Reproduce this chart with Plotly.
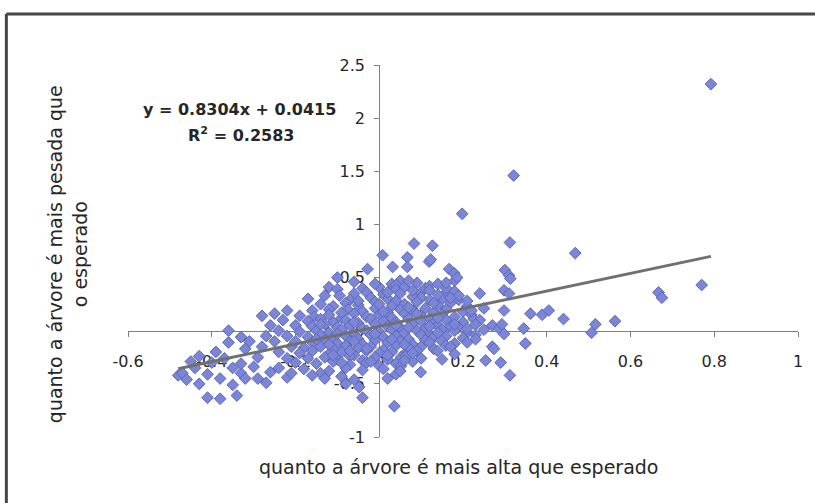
import plotly.graph_objects as go

# ---------------- data ----------------
# sparse left part of the cloud
left_x = [-0.48, -0.47, -0.46, -0.45, -0.44, -0.43, -0.43, -0.41, -0.41, -0.40, -0.39, -0.38, -0.38,
          -0.37, -0.36, -0.36, -0.35, -0.35, -0.34, -0.33, -0.33, -0.33, -0.32, -0.32, -0.31, -0.30,
          -0.29, -0.29, -0.28, -0.28, -0.27, -0.27, -0.26, -0.26, -0.25, -0.25, -0.24, -0.24, -0.24,
          -0.23, -0.22, -0.22, -0.22, -0.22, -0.21, -0.21, -0.20, -0.20, -0.20]
left_y = [-0.42, -0.40, -0.46, -0.29, -0.35, -0.24, -0.50, -0.63, -0.41, -0.30, -0.20, -0.45, -0.64,
          -0.26, 0.00, -0.11, -0.35, -0.51, -0.61, -0.40, -0.06, -0.31, -0.17, -0.45, -0.10, -0.34,
          -0.45, -0.25, 0.14, -0.15, -0.05, -0.49, 0.05, -0.39, -0.10, 0.16, -0.20, -0.35, 0.00,
          0.10, 0.19, -0.05, -0.26, -0.44, -0.15, -0.40, -0.30, 0.05, -0.10]

# dense central part of the cloud
core_x = [-0.10, -0.06, 0.03, 0.05, 0.04, 0.09, -0.12,
          -0.10, -0.04, -0.06, -0.03, 0.00, 0.01, 0.04, 0.06, 0.05, 0.10, 0.11, 0.12, 0.12, 0.16, 0.16, 0.18, 0.24,
          -0.17, -0.095, -0.07, -0.02, 0.02, 0.04, 0.08, 0.10, 0.12, 0.15, 0.19, 0.19,
          -0.14, -0.11, -0.08, -0.05, -0.01, 0.03, 0.06, 0.09, 0.14, 0.17, 0.21,
          -0.16, -0.12, -0.075, -0.04, -0.01, 0.02, 0.05, 0.08, 0.11, 0.13, 0.16, 0.20, 0.25,
          -0.19, -0.155, -0.12, -0.09, -0.06, -0.03, 0.00, 0.03, 0.06, 0.10, 0.12, 0.15, 0.18, 0.22,
          -0.17, -0.14, -0.11, -0.08, -0.05, -0.02, 0.01, 0.04, 0.07, 0.10, 0.13, 0.16, 0.20, 0.226, 0.24,
          -0.16, -0.13, -0.10, -0.07, -0.04, -0.01, 0.02, 0.05, 0.08, 0.11, 0.14, 0.17, 0.19, 0.23,
          -0.19, -0.15, -0.12, -0.09, -0.06, -0.03, 0.00, 0.03, 0.06, 0.09, 0.12, 0.15, 0.18, 0.21, 0.25,
          -0.17, -0.14, -0.11, -0.08, -0.05, -0.02, 0.01, 0.04, 0.07, 0.10, 0.13, 0.16, 0.20, 0.23,
          -0.16, -0.13, -0.10, -0.07, -0.04, -0.01, 0.02, 0.05, 0.08, 0.11, 0.147, 0.18,
          -0.18, -0.14, -0.11, -0.08, -0.05, -0.02, 0.01, 0.04, 0.07, 0.10, 0.13, 0.159, 0.27,
          -0.19, -0.16, -0.12, -0.09, -0.06, -0.03, 0.00, 0.03, 0.06, 0.09, 0.139,
          -0.17, -0.13, -0.10, -0.07, -0.04, -0.01, 0.02, 0.052, 0.063, 0.10,
          -0.15, -0.11, -0.07, -0.03, 0.00, 0.04, 0.052, 0.08,
          -0.18, -0.12, -0.08, -0.04, 0.01, 0.04, 0.05, 0.099, -0.14,
          -0.13, -0.09, -0.06, 0.02, -0.08, -0.048, -0.16,
          -0.04, 0.036]
core_y = [0.50, 0.46, 0.44, 0.47, 0.43, 0.45, 0.41,
          0.39, 0.40, 0.35, 0.36, 0.41, 0.34, 0.39, 0.41, 0.35, 0.36, 0.40, 0.42, 0.38, 0.36, 0.40, 0.37, 0.35,
          0.30, 0.33, 0.29, 0.31, 0.30, 0.28, 0.32, 0.31, 0.29, 0.30, 0.29, 0.33,
          0.25, 0.23, 0.26, 0.24, 0.27, 0.23, 0.25, 0.27, 0.24, 0.26, 0.23,
          0.19, 0.20, 0.20, 0.18, 0.21, 0.17, 0.20, 0.19, 0.21, 0.17, 0.20, 0.18, 0.21,
          0.14, 0.13, 0.15, 0.12, 0.16, 0.13, 0.15, 0.12, 0.16, 0.14, 0.11, 0.15, 0.13, 0.15,
          0.09, 0.11, 0.08, 0.10, 0.07, 0.11, 0.09, 0.08, 0.11, 0.09, 0.07, 0.10, 0.08, 0.11, 0.10,
          0.04, 0.06, 0.03, 0.05, 0.02, 0.06, 0.04, 0.03, 0.06, 0.02, 0.05, 0.04, 0.03, 0.06,
          -0.01, 0.00, -0.02, 0.01, -0.03, 0.00, -0.01, 0.01, -0.02, 0.00, -0.03, 0.01, 0.00, -0.02, 0.01,
          -0.06, -0.04, -0.07, -0.05, -0.08, -0.04, -0.06, -0.05, -0.08, -0.04, -0.06, -0.05, -0.07, -0.04,
          -0.11, -0.09, -0.12, -0.10, -0.13, -0.09, -0.11, -0.10, -0.13, -0.09, -0.09, -0.12,
          -0.16, -0.15, -0.17, -0.14, -0.16, -0.15, -0.18, -0.14, -0.16, -0.15, -0.17, -0.14, -0.15,
          -0.21, -0.19, -0.22, -0.20, -0.23, -0.19, -0.21, -0.20, -0.22, -0.19, -0.19,
          -0.26, -0.25, -0.27, -0.24, -0.28, -0.25, -0.27, -0.25, -0.24, -0.26,
          -0.31, -0.29, -0.32, -0.30, -0.33, -0.31, -0.33, -0.29,
          -0.36, -0.38, -0.35, -0.37, -0.36, -0.41, -0.38, -0.39, -0.40,
          -0.45, -0.43, -0.46, -0.45, -0.50, -0.53, -0.42,
          -0.63, -0.71]

# extra points filling the saturated centre of the cloud
fill_x = [-0.13, -0.05, 0.00, 0.07, 0.13, 0.17, -0.09, 0.01, 0.09, 0.14, -0.14, -0.06, 0.04, 0.12,
          0.18, -0.10, -0.01, 0.07, 0.14, -0.15, -0.06, 0.03, 0.12, -0.12, -0.03, 0.06, -0.07, 0.02,
          -0.11, 0.08, -0.02, 0.06, -0.09, 0.02, 0.08, 0.14, -0.01, 0.07, 0.14, 0.18, 0.21, 0.22,
          0.21, 0.23, 0.17, 0.21, 0.18, 0.15, 0.16]
fill_y = [0.33, 0.28, 0.25, 0.22, 0.26, 0.31, 0.17, 0.18, 0.16, 0.12, 0.06, 0.08, 0.05, 0.04,
          0.06, -0.03, -0.03, 0.03, -0.02, -0.08, -0.10, -0.08, -0.11, -0.13, -0.17, -0.13, -0.19, -0.23,
          -0.23, -0.21, -0.29, -0.28, -0.30, 0.36, 0.38, 0.34, 0.44, 0.47, 0.44, 0.47, 0.28, 0.19,
          0.02, -0.08, -0.15, -0.11, -0.22, -0.27, 0.45]

# upper scattered points of the cloud
upper_x = [0.083, 0.127, 0.008, 0.067, 0.119, 0.123, 0.032, 0.067, -0.028, 0.167, 0.179, 0.186]
upper_y = [0.82, 0.80, 0.71, 0.69, 0.65, 0.67, 0.60, 0.60, 0.58, 0.58, 0.54, 0.50]

# right-hand points and outliers
right_x = [0.321, 0.312, 0.468, 0.30, 0.31, 0.313, 0.298, 0.31, 0.198, 0.298, 0.361, 0.389, 0.405,
           0.44, 0.563, 0.516, 0.507, 0.27, 0.286, 0.293, 0.298, 0.345, 0.349, 0.274, 0.254, 0.29,
           0.312, 0.667, 0.675, 0.77, 0.792]
right_y = [1.46, 0.83, 0.73, 0.57, 0.52, 0.49, 0.38, 0.35, 1.10, 0.19, 0.16, 0.15, 0.19,
           0.11, 0.09, 0.06, -0.02, 0.05, 0.02, 0.06, -0.03, 0.02, -0.12, -0.17, -0.28, -0.30,
           -0.42, 0.36, 0.31, 0.43, 2.32]

# linear trendline reported in the chart
SLOPE = 0.8304
INTERCEPT = 0.0415
R2 = 0.2583

X_TICKS = [-0.6, -0.4, -0.2, 0, 0.2, 0.4, 0.6, 0.8, 1]
X_TICK_TEXT = ["-0.6", "-0.4", "-0.2", "0", "0.2", "0.4", "0.6", "0.8", "1"]
Y_TICKS = [-1, -0.5, 0, 0.5, 1, 1.5, 2, 2.5]
Y_TICK_TEXT = ["-1", "-0.5", "0", "0.5", "1", "1.5", "2", "2.5"]
X_RANGE = [-0.6, 1]
Y_RANGE = [-1, 2.5]

X_TITLE = "quanto a árvore é mais alta que esperado"
Y_TITLE = "quanto a árvore é mais pesada que<br>o esperado"

# ---------------- figure ----------------
all_x = left_x + core_x + fill_x + upper_x + right_x
all_y = left_y + core_y + fill_y + upper_y + right_y

FONT = "DejaVu Sans"
TXT = "#262626"

fig = go.Figure()
fig.add_trace(go.Scatter(
    x=all_x, y=all_y, mode="markers",
    marker=dict(symbol="diamond", size=9, color="rgb(124,134,214)",
                line=dict(color="rgb(92,102,186)", width=1)),
    showlegend=False, hoverinfo="x+y"))

tx = [min(all_x), max(all_x)]
ty = [SLOPE * v + INTERCEPT for v in tx]
fig.add_trace(go.Scatter(x=tx, y=ty, mode="lines",
                         line=dict(color="rgb(112,112,112)", width=3),
                         showlegend=False, hoverinfo="skip"))

# position of the crossing axes (Excel style: axes cross at 0)
x_axis_pos = (0 - Y_RANGE[0]) / (Y_RANGE[1] - Y_RANGE[0])
y_axis_pos = (0 - X_RANGE[0]) / (X_RANGE[1] - X_RANGE[0])

fig.update_layout(
    width=815, height=503,
    margin=dict(l=128, r=15, t=65, b=66),
    paper_bgcolor="white", plot_bgcolor="white",
    font=dict(family=FONT, size=16, color=TXT),
    xaxis=dict(range=X_RANGE, tickvals=X_TICKS, ticktext=X_TICK_TEXT,
               anchor="free", position=x_axis_pos,
               showline=True, linecolor="rgb(128,128,128)", linewidth=1,
               ticks="outside", ticklen=5, tickcolor="rgb(128,128,128)",
               showgrid=False, zeroline=False, layer="below traces",
               ticklabelstandoff=11, tickfont=dict(family=FONT, size=16, color=TXT)),
    yaxis=dict(range=Y_RANGE, tickvals=Y_TICKS, ticktext=Y_TICK_TEXT,
               anchor="free", position=y_axis_pos,
               showline=True, linecolor="rgb(128,128,128)", linewidth=1,
               ticks="outside", ticklen=5, tickcolor="rgb(128,128,128)",
               showgrid=False, zeroline=False, layer="below traces",
               ticklabelstandoff=6, tickfont=dict(family=FONT, size=16, color=TXT)),
)

# axis titles (placed like Excel: outside the plot area)
fig.add_annotation(text=X_TITLE, xref="paper", yref="paper",
                   x=(460 - 128) / 672, y=(437 - 467) / 372,
                   xanchor="center", yanchor="middle", showarrow=False,
                   font=dict(family=FONT, size=19, color=TXT))
fig.add_annotation(text=Y_TITLE, xref="paper", yref="paper",
                   x=(67 - 128) / 672, y=(437 - 254) / 372, textangle=-90,
                   xanchor="center", yanchor="middle", showarrow=False,
                   font=dict(family=FONT, size=19, color=TXT))

# trendline equation
fig.add_annotation(text=f"y = {SLOPE}x + {INTERCEPT}", xref="paper", yref="paper",
                   x=(240 - 128) / 672, y=(437 - 109) / 372,
                   xanchor="center", yanchor="middle", showarrow=False,
                   font=dict(family=FONT, size=16, color=TXT, weight="bold"))
fig.add_annotation(text=f"R<sup>2</sup> = {R2}", xref="paper", yref="paper",
                   x=(241 - 128) / 672, y=(437 - 134) / 372,
                   xanchor="center", yanchor="middle", showarrow=False,
                   font=dict(family=FONT, size=16, color=TXT, weight="bold"))

# outer chart border (left and top edges visible in the scan)
bx0 = (6 - 128) / 672
by_top = (437 - 14) / 372
fig.add_shape(type="line", xref="paper", yref="paper",
              x0=bx0, x1=bx0, y0=by_top, y1=(437 - 510) / 372,
              line=dict(color="rgb(70,70,70)", width=3))
fig.add_shape(type="line", xref="paper", yref="paper",
              x0=bx0, x1=(830 - 128) / 672, y0=by_top, y1=by_top,
              line=dict(color="rgb(70,70,70)", width=3))

fig.write_html("out.html")
